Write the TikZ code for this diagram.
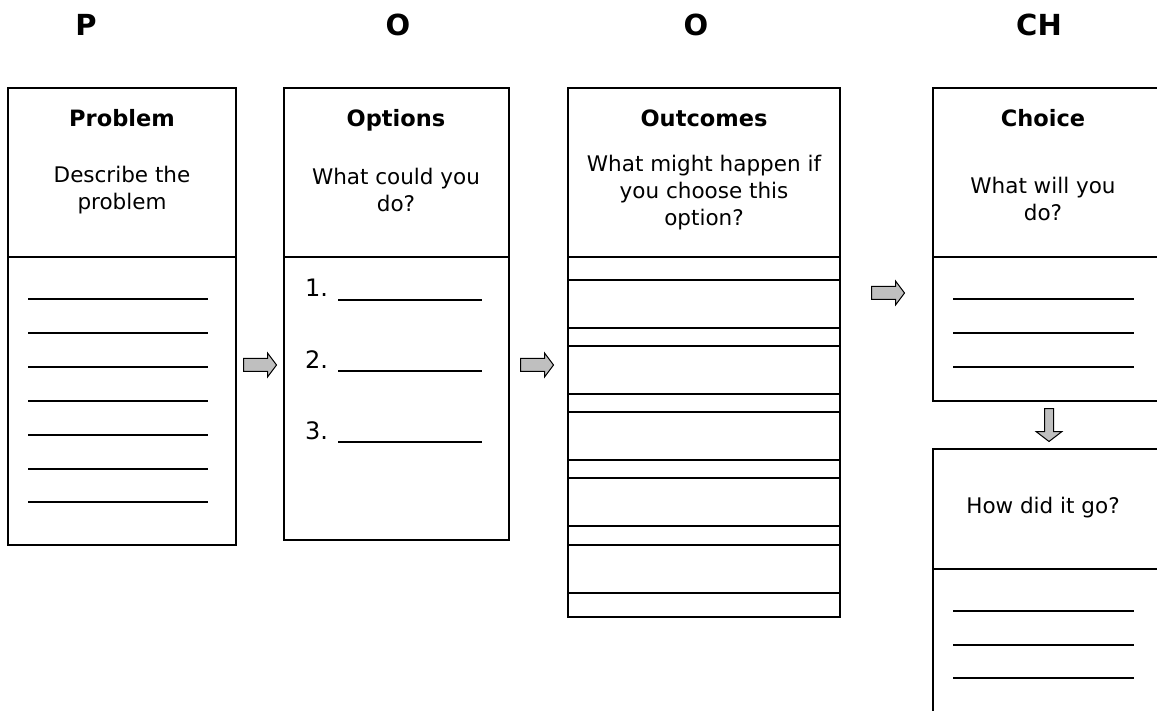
\documentclass[tikz,border=0pt]{standalone}
\usepackage{fontspec}
\setmainfont{DejaVu Sans}
\tikzset{
  box/.style={draw, line width=1.2pt, inner sep=0pt, outer sep=0pt, anchor=north west},
  ttl/.style={font=\bfseries\fontsize{22.5}{26}\selectfont, anchor=base},
  desc/.style={font=\fontsize{21.5}{27}\selectfont, align=center, anchor=center},
  hdr/.style={font=\bfseries\fontsize{29}{32}\selectfont, anchor=base},
  num/.style={font=\fontsize{24}{28}\selectfont, anchor=base west, inner sep=0pt},
  blank/.style={line width=2.4pt},
  rule/.style={line width=1.2pt},
  barrow/.style={draw=black, fill=gray!50, line width=1pt, line join=miter}
}
\begin{document}
\begin{tikzpicture}[x=1pt,y=-1pt]
\useasboundingbox (0,0) rectangle (1157,711);
\clip (0,0) rectangle (1157,711);
\fill[white] (0,0) rectangle (1157,711);
% headers
\node[hdr] (hP) at (86,36) {P};
\node[hdr] (hO1) at (398,36) {O};
\node[hdr] (hO2) at (696,36) {O};
\node[hdr] (hCH) at (1039,36) {CH};
% Problem
\node[box, minimum width=228pt, minimum height=457pt] (prob) at (8,88) {};
\draw[rule] (8,257) -- (236,257);
\node[ttl] (tprob) at (122,127) {Problem};
\node[desc] (dprob) at (122,190) {Describe the\\problem};
\foreach \yy in {299,333,367,401,435,469,502}
  \draw[blank] (28,\yy) -- (208,\yy);
% Options
\node[box, minimum width=225pt, minimum height=452pt] (opt) at (284,88) {};
\draw[rule] (284,257) -- (509,257);
\node[ttl] (topt) at (396,127) {Options};
\node[desc] (dopt) at (396,190) {What could you\\do?};
\node[num] (n1) at (305,297) {1.};
\node[num] (n2) at (305,368) {2.};
\node[num] (n3) at (305,439) {3.};
\foreach \yy in {300,371,442}
  \draw[blank] (338,\yy) -- (482,\yy);
% Outcomes
\node[box, minimum width=272pt, minimum height=529pt] (outc) at (568,88) {};
\draw[rule] (568,257) -- (840,257);
\node[ttl] (toutc) at (704,127) {Outcomes};
\node[desc] (doutc) at (704,193) {What might happen if\\you choose this\\option?};
\foreach \yy in {280,346,412,478,545}
  \draw[rule] (568,\yy) rectangle (840,\yy+48);
% Choice
\node[box, minimum width=230pt, minimum height=313pt] (choice) at (933,88) {};
\draw[rule] (933,257) -- (1163,257);
\node[ttl] (tchoice) at (1043,127) {Choice};
\node[desc] (dchoice) at (1043,199) {What will you\\do?};
\foreach \yy in {299,333,367}
  \draw[blank] (953,\yy) -- (1134,\yy);
% How did it go
\node[box, minimum width=230pt, minimum height=280pt] (how) at (933,449) {};
\draw[rule] (933,569) -- (1163,569);
\node[desc] (dhow) at (1043,508) {How did it go?};
\foreach \yy in {611,645,678}
  \draw[blank] (953,\yy) -- (1134,\yy);
% block arrows
\coordinate (a1) at (260,365);
\coordinate (a2) at (537,365);
\coordinate (a3) at (888,293);
\coordinate (a4) at (1049,425);
\foreach \c in {a1,a2,a3}
  \draw[barrow, shift={(\c)}] (-16.5,-6.5) -- (7.5,-6.5) -- (7.5,-12) -- (16.5,0)
     -- (7.5,12) -- (7.5,6.5) -- (-16.5,6.5) -- cycle;
\draw[barrow, shift={(a4)}] (-4.5,-16.5) -- (4.5,-16.5) -- (4.5,6.5) -- (13,6.5)
     -- (0,16.5) -- (-13,6.5) -- (-4.5,6.5) -- cycle;
\end{tikzpicture}
\end{document}
